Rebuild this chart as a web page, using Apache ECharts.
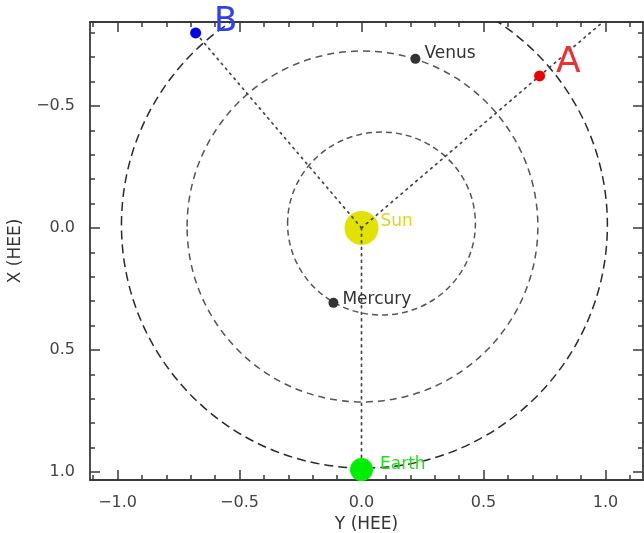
<!DOCTYPE html>
<html><head><meta charset="utf-8">
<script src="https://cdn.jsdelivr.net/npm/echarts@6/dist/echarts.min.js"></script>
<style>html,body{margin:0;padding:0;background:#fff}#c{width:644px;height:533px}</style>
</head><body><div id="c"></div>
<script>
// axis ranges (horizontal = Y (HEE), vertical = X (HEE), inverted)
const xRange = [-1.113, 1.154];
const yRange = [-0.844, 1.033];
const majorTicksX = [-1.0, -0.5, 0.0, 0.5, 1.0];
const minorTicksX = [-1.1,-0.9,-0.8,-0.7,-0.6,-0.4,-0.3,-0.2,-0.1,0.1,0.2,0.3,0.4,0.6,0.7,0.8,0.9,1.1];
const majorTicksY = [-0.5, 0.0, 0.5, 1.0];
const minorTicksY = [-0.8,-0.7,-0.6,-0.4,-0.3,-0.2,-0.1,0.1,0.2,0.3,0.4,0.6,0.7,0.8,0.9];

// bodies: position in HEE (Y, X)
const bodyNames = ['Sun', 'Mercury', 'Venus', 'Earth', 'A', 'B'];
const bodyY = [0.0, -0.115, 0.221, 0.0, 0.730, -0.680];
const bodyX = [0.0, 0.307, -0.693, 0.990, -0.623, -0.799];

// orbits: centre (Y, X) and semi-axes along Y and X
const orbitNames = ['Mercury', 'Venus', 'Earth'];
const orbitCenterY = [0.082, 0.004, 0.012];
const orbitCenterX = [-0.018, -0.006, -0.012];
const orbitSemiY = [0.385, 0.719, 0.996];
const orbitSemiX = [0.375, 0.719, 0.996];

// end of the Sun–A sight line (runs past A to the frame)
const lineAEnd = [1.0, -0.853];

const FONT = 'DejaVu Sans';
const AX = '#3a3a3a';

const orbitStyles = [
  {stroke: '#555', lineWidth: 1.5, lineDash: [6, 4]},
  {stroke: '#555', lineWidth: 1.5, lineDash: [7, 5]},
  {stroke: '#2a2a2a', lineWidth: 1.5, lineDash: [9, 5]}
];

const bodyStyle = {
  Sun:     {size: 34, color: '#e2e200', label: {color: '#d8d820', fontSize: 17, offset: [-6, -6]}},
  Mercury: {size: 10, color: '#333',    label: {color: '#333', fontSize: 17, offset: [-4, -3]}},
  Venus:   {size: 10, color: '#333',    label: {color: '#333', fontSize: 17, offset: [-4, -5]}},
  Earth:   {size: 23, color: '#00ee00', label: {color: '#22dd22', fontSize: 17, offset: [-1, -5]}},
  A:       {size: 11, color: '#f00000', label: {color: '#f03030', fontSize: 36, offset: [3, -13]}},
  B:       {size: 11, color: '#0000f0', label: {color: '#3040f0', fontSize: 34, offset: [5, -11]}}
};

const fmt = v => v.toFixed(1).replace('-', '\u2212');

function xAxisDef(pos, ticks, len, showLine, showLabel, name) {
  return {
    type: 'value', position: pos, min: xRange[0], max: xRange[1], z: 0,
    gridIndex: 0, name: name || '', nameLocation: 'middle', nameGap: 28,
    nameTextStyle: {color: '#333', fontSize: 17, fontFamily: FONT},
    axisLine: {show: showLine, onZero: false, lineStyle: {color: AX, width: 1.8}},
    axisTick: {show: true, inside: true, length: len, customValues: ticks, lineStyle: {color: AX, width: 1.5}},
    axisLabel: {show: showLabel, customValues: ticks, margin: 15, color: '#444', fontSize: 16, fontFamily: FONT,
                formatter: fmt},
    splitLine: {show: false}
  };
}
function yAxisDef(pos, ticks, len, showLine, showLabel, name) {
  return {
    type: 'value', position: pos, min: yRange[0], max: yRange[1], inverse: true, z: 0,
    gridIndex: 0, name: name || '', nameLocation: 'middle', nameGap: 66, nameRotate: 90,
    nameTextStyle: {color: '#333', fontSize: 17, fontFamily: FONT},
    axisLine: {show: showLine, onZero: false, lineStyle: {color: AX, width: 1.8}},
    axisTick: {show: true, inside: true, length: len, customValues: ticks, lineStyle: {color: AX, width: 1.5}},
    axisLabel: {show: showLabel, customValues: ticks, margin: 15, color: '#444', fontSize: 16, fontFamily: FONT,
                formatter: fmt},
    splitLine: {show: false}
  };
}

const orbitData = orbitNames.map((n, i) => ({name: n, value: [orbitCenterY[i], orbitCenterX[i], orbitSemiY[i] * 2, orbitSemiX[i] * 2]}));

function bodyItem(i) {
  const n = bodyNames[i], s = bodyStyle[n];
  return {
    name: n, value: [bodyY[i], bodyX[i]], symbolSize: s.size,
    itemStyle: {color: s.color, opacity: 1},
    label: {show: true, position: 'right', distance: 8, formatter: n, color: s.label.color,
            fontSize: s.label.fontSize, fontFamily: FONT, offset: s.label.offset}
  };
}
const sunIdx = bodyNames.indexOf('Sun');
const earthIdx = bodyNames.indexOf('Earth');
const aIdx = bodyNames.indexOf('A');
const bIdx = bodyNames.indexOf('B');

const dotted = {color: '#444', width: 1.7, type: [1.7, 4.8], cap: 'round'};
function sightLine(pts) {
  return {type: 'line', data: pts, symbol: 'none', silent: true, clip: true, z: 7,
          xAxisIndex: 0, yAxisIndex: 0, lineStyle: dotted, animation: false};
}

const chart = echarts.init(document.getElementById('c'), null, {renderer: 'canvas'});
chart.setOption({
  animation: false,
  backgroundColor: '#fff',
  grid: {left: 90, right: 1, top: 22, bottom: 53, containLabel: false, outerBoundsMode: 'none'},
  xAxis: [
    xAxisDef('bottom', majorTicksX, 10, true, true, 'Y (HEE)'),
    xAxisDef('top', majorTicksX, 10, true, false),
    xAxisDef('bottom', minorTicksX, 5, false, false),
    xAxisDef('top', minorTicksX, 5, false, false)
  ],
  yAxis: [
    yAxisDef('left', majorTicksY, 10, true, true, 'X (HEE)'),
    yAxisDef('right', majorTicksY, 10, true, false),
    yAxisDef('left', minorTicksY, 5, false, false),
    yAxisDef('right', minorTicksY, 5, false, false)
  ],
  series: [
    {
      type: 'custom', coordinateSystem: 'cartesian2d', xAxisIndex: 0, yAxisIndex: 0,
      clip: true, z: 5, silent: true, data: orbitData,
      renderItem(params, api) {
        const c = api.coord([api.value(0), api.value(1)]);
        const s = api.size([api.value(2), api.value(3)], [api.value(0), api.value(1)]);
        const st = orbitStyles[params.dataIndex];
        return {type: 'ellipse', shape: {cx: c[0], cy: c[1], rx: s[0] / 2, ry: s[1] / 2},
                style: {fill: 'none', stroke: st.stroke, lineWidth: st.lineWidth, lineDash: st.lineDash}};
      }
    },
    {
      type: 'scatter', xAxisIndex: 0, yAxisIndex: 0, z: 6, symbol: 'circle',
      data: [bodyItem(sunIdx)]
    },
    sightLine([[bodyY[sunIdx], bodyX[sunIdx]], [bodyY[earthIdx], bodyX[earthIdx]]]),
    sightLine([[bodyY[sunIdx], bodyX[sunIdx]], [bodyY[aIdx], bodyX[aIdx]], lineAEnd]),
    sightLine([[bodyY[sunIdx], bodyX[sunIdx]], [bodyY[bIdx], bodyX[bIdx]]]),
    {
      type: 'scatter', xAxisIndex: 0, yAxisIndex: 0, zlevel: 1, z: 8, symbol: 'circle', clip: false,
      data: bodyNames.map((n, i) => i).filter(i => i !== sunIdx).map(bodyItem)
    }
  ]
});
</script>
</body></html>
